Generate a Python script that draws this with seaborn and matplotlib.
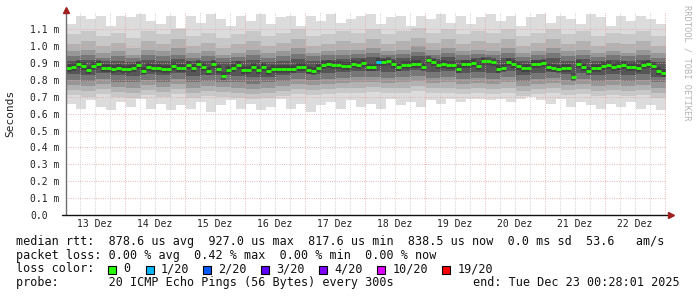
import numpy as np
import pandas as pd
import matplotlib
matplotlib.use("Agg")
import matplotlib.pyplot as plt
import matplotlib.dates as mdates
from matplotlib.patches import Rectangle
import seaborn as sns

# ---------------- data ----------------
start = pd.Timestamp("2025-12-13 00:28:01")
end = pd.Timestamp("2025-12-23 00:28:01")

# median RTT (ms), one value every 2 hours
median_ms = [
    0.870, 0.878, 0.897, 0.882, 0.858, 0.880, 0.893, 0.873, 0.868, 0.862,
    0.870, 0.866, 0.866, 0.873, 0.887, 0.855, 0.877, 0.872, 0.868, 0.866,
    0.867, 0.880, 0.873, 0.873, 0.887, 0.873, 0.893, 0.877, 0.855, 0.897,
    0.862, 0.822, 0.858, 0.870, 0.890, 0.858, 0.860, 0.877, 0.860, 0.877,
    0.850, 0.862, 0.862, 0.862, 0.867, 0.867, 0.877, 0.877, 0.858, 0.850,
    0.872, 0.890, 0.893, 0.887, 0.887, 0.885, 0.880, 0.897, 0.890, 0.900,
    0.877, 0.877, 0.905, 0.905, 0.915, 0.893, 0.877, 0.890, 0.890, 0.897,
    0.897, 0.877, 0.917, 0.905, 0.887, 0.897, 0.890, 0.890, 0.866, 0.897,
    0.893, 0.900, 0.885, 0.910, 0.910, 0.905, 0.866, 0.872, 0.905, 0.893,
    0.882, 0.873, 0.873, 0.897, 0.897, 0.900, 0.877, 0.868, 0.862, 0.868,
    0.873, 0.818, 0.897, 0.877, 0.855, 0.868, 0.868, 0.882, 0.890, 0.877,
    0.882, 0.890, 0.877, 0.877, 0.873, 0.890, 0.897, 0.880, 0.855, 0.840,
]
# loss events on the median line: (index, lost pings out of 20)
loss_index = [62]
loss_count = [1]

# smoke envelope (ms), one value every 4 hours
smoke_max = [
    1.13, 1.18, 1.16, 1.18, 1.12, 1.18, 1.17, 1.19, 1.15, 1.13, 1.18, 1.11,
    1.18, 1.14, 1.19, 1.16, 1.12, 1.18, 1.15, 1.19, 1.13, 1.17, 1.18, 1.12,
    1.18, 1.15, 1.19, 1.14, 1.16, 1.18, 1.19, 1.13, 1.17, 1.18, 1.12, 1.18,
    1.16, 1.19, 1.14, 1.18, 1.13, 1.17, 1.19, 1.15, 1.18, 1.12, 1.17, 1.19,
    1.14, 1.18, 1.16, 1.13, 1.19, 1.17, 1.12, 1.18, 1.15, 1.18, 1.16, 1.13,
]
smoke_min = [
    0.66, 0.63, 0.68, 0.64, 0.62, 0.67, 0.64, 0.69, 0.63, 0.66, 0.62, 0.65,
    0.63, 0.67, 0.61, 0.65, 0.68, 0.63, 0.66, 0.62, 0.64, 0.69, 0.63, 0.66,
    0.61, 0.65, 0.67, 0.63, 0.68, 0.64, 0.66, 0.63, 0.69, 0.65, 0.67, 0.64,
    0.68, 0.66, 0.69, 0.67, 0.69, 0.69, 0.68, 0.69, 0.67, 0.69, 0.70, 0.68,
    0.66, 0.69, 0.64, 0.67, 0.65, 0.63, 0.66, 0.64, 0.67, 0.63, 0.65, 0.62,
]
# inner smoke levels (ms), one value every 6 hours, outer (1) to inner (5)
smoke_u1 = [1.07, 1.09, 1.06, 1.08, 1.05, 1.09, 1.07, 1.10, 1.06, 1.08,
            1.05, 1.07, 1.09, 1.06, 1.08, 1.10, 1.06, 1.07, 1.09, 1.08,
            1.10, 1.07, 1.09, 1.11, 1.08, 1.10, 1.07, 1.09, 1.08, 1.10,
            1.06, 1.08, 1.10, 1.07, 1.09, 1.06, 1.08, 1.07, 1.09, 1.06]
smoke_u2 = [1.01, 1.03, 1.00, 1.02, 0.99, 1.03, 1.01, 1.04, 1.00, 1.02,
            0.99, 1.01, 1.03, 1.00, 1.02, 1.04, 1.00, 1.01, 1.03, 1.02,
            1.04, 1.01, 1.03, 1.05, 1.02, 1.04, 1.01, 1.03, 1.02, 1.04,
            1.00, 1.02, 1.04, 1.01, 1.03, 1.00, 1.02, 1.01, 1.03, 1.00]
smoke_u3 = [0.97, 0.98, 0.96, 0.97, 0.95, 0.98, 0.97, 0.99, 0.96, 0.97,
            0.95, 0.96, 0.98, 0.96, 0.97, 0.99, 0.96, 0.97, 0.98, 0.98,
            0.99, 0.97, 0.98, 1.00, 0.98, 0.99, 0.97, 0.98, 0.97, 0.99,
            0.96, 0.97, 0.99, 0.97, 0.98, 0.96, 0.97, 0.96, 0.98, 0.96]
smoke_u4 = [0.940, 0.945, 0.930, 0.940, 0.930, 0.950, 0.940, 0.950, 0.930, 0.940,
            0.930, 0.935, 0.950, 0.930, 0.940, 0.955, 0.940, 0.945, 0.950, 0.955,
            0.960, 0.950, 0.955, 0.965, 0.950, 0.960, 0.945, 0.955, 0.945, 0.960,
            0.935, 0.945, 0.960, 0.940, 0.950, 0.935, 0.945, 0.940, 0.950, 0.930]
smoke_u5 = [0.915, 0.920, 0.910, 0.915, 0.905, 0.920, 0.915, 0.925, 0.910, 0.915,
            0.905, 0.910, 0.920, 0.905, 0.915, 0.925, 0.915, 0.920, 0.925, 0.930,
            0.935, 0.925, 0.930, 0.940, 0.925, 0.935, 0.920, 0.930, 0.920, 0.930,
            0.910, 0.920, 0.930, 0.915, 0.925, 0.910, 0.920, 0.915, 0.920, 0.905]
smoke_d5 = [0.835, 0.830, 0.840, 0.830, 0.825, 0.835, 0.830, 0.840, 0.825, 0.830,
            0.830, 0.825, 0.815, 0.820, 0.830, 0.840, 0.835, 0.840, 0.845, 0.850,
            0.855, 0.845, 0.850, 0.860, 0.845, 0.850, 0.840, 0.845, 0.840, 0.850,
            0.830, 0.840, 0.845, 0.835, 0.840, 0.830, 0.835, 0.830, 0.835, 0.820]
smoke_d4 = [0.800, 0.795, 0.805, 0.790, 0.785, 0.800, 0.790, 0.805, 0.785, 0.795,
            0.790, 0.785, 0.775, 0.785, 0.795, 0.805, 0.800, 0.805, 0.810, 0.815,
            0.820, 0.810, 0.815, 0.825, 0.810, 0.815, 0.805, 0.810, 0.805, 0.815,
            0.795, 0.805, 0.810, 0.800, 0.805, 0.795, 0.800, 0.795, 0.800, 0.785]
smoke_d3 = [0.770, 0.765, 0.775, 0.760, 0.755, 0.770, 0.760, 0.775, 0.755, 0.765,
            0.760, 0.755, 0.745, 0.755, 0.765, 0.775, 0.770, 0.775, 0.780, 0.785,
            0.790, 0.780, 0.785, 0.795, 0.780, 0.785, 0.775, 0.780, 0.775, 0.785,
            0.765, 0.775, 0.780, 0.770, 0.775, 0.765, 0.770, 0.765, 0.770, 0.755]
smoke_d2 = [0.740, 0.735, 0.745, 0.730, 0.725, 0.740, 0.730, 0.745, 0.725, 0.735,
            0.730, 0.725, 0.715, 0.725, 0.735, 0.745, 0.740, 0.745, 0.750, 0.755,
            0.760, 0.750, 0.755, 0.765, 0.750, 0.755, 0.745, 0.750, 0.745, 0.755,
            0.735, 0.745, 0.750, 0.740, 0.745, 0.735, 0.740, 0.735, 0.740, 0.725]
smoke_d1 = [0.710, 0.700, 0.715, 0.700, 0.695, 0.710, 0.700, 0.715, 0.695, 0.705,
            0.700, 0.695, 0.685, 0.695, 0.705, 0.715, 0.710, 0.715, 0.720, 0.725,
            0.730, 0.720, 0.725, 0.735, 0.720, 0.725, 0.715, 0.720, 0.715, 0.725,
            0.705, 0.715, 0.720, 0.710, 0.715, 0.705, 0.710, 0.705, 0.710, 0.695]

y_ticks = [0.0, 0.1, 0.2, 0.3, 0.4, 0.5, 0.6, 0.7, 0.8, 0.9, 1.0, 1.1]
y_tick_labels = ["0.0", "0.1 m", "0.2 m", "0.3 m", "0.4 m", "0.5 m", "0.6 m",
                 "0.7 m", "0.8 m", "0.9 m", "1.0 m", "1.1 m"]
day_labels = ["13 Dez", "14 Dez", "15 Dez", "16 Dez", "17 Dez",
              "18 Dez", "19 Dez", "20 Dez", "21 Dez", "22 Dez"]

loss_labels = ["0", "1/20", "2/20", "3/20", "4/20", "10/20", "19/20"]
loss_colors = ["#26ff00", "#00b8ff", "#0059ff", "#5e00ff", "#7e00ff", "#dd00ff", "#ff0000"]

stats_line1 = "median rtt:  878.6 us avg  927.0 us max  817.6 us min  838.5 us now  0.0 ms sd  53.6   am/s"
stats_line2 = "packet loss: 0.00 % avg  0.42 % max  0.00 % min  0.00 % now"
probe_line = "probe:       20 ICMP Echo Pings (56 Bytes) every 300s"
end_line = "end: Tue Dec 23 00:28:01 2025"

# ---------------- figure ----------------
sns.set_theme(style="white")
plt.rcParams["font.family"] = ["DejaVu Sans Mono"]
W, H = 697, 297
fig = plt.figure(figsize=(W / 100, H / 100), dpi=100)
fig.patch.set_facecolor("white")

def fx(px):
    return px / W

def fy(py):
    return 1 - py / H

ax_left, ax_right, ax_bottom, ax_top = 66, 666, 215, 12.4
ax = fig.add_axes([fx(ax_left), fy(ax_bottom), (ax_right - ax_left) / W, (ax_bottom - ax_top) / H])
ax.set_facecolor("white")

def times(n, hours):
    return mdates.date2num(pd.date_range(start, periods=n + 1, freq=f"{hours}h"))

def ext(v):
    return list(v) + [v[-1]]

t_med = times(len(median_ms), 2)
t_smoke = times(len(smoke_max), 4)
t_inner = times(len(smoke_u1), 6)

# smoke layers
ax.fill_between(t_smoke, ext(smoke_min), ext(smoke_max), step="post", color="#dcdcdc", lw=0, zorder=1)
layers = [(smoke_d1, smoke_u1, "#c8c8c8"), (smoke_d2, smoke_u2, "#b2b2b2"),
          (smoke_d3, smoke_u3, "#979797"), (smoke_d4, smoke_u4, "#777777"),
          (smoke_d5, smoke_u5, "#565656")]
for lo, hi, col in layers:
    ax.fill_between(t_inner, ext(lo), ext(hi), step="post", color=col, lw=0, zorder=1)

# median as short horizontal segments (one per consolidation step)
seg_rows = []
for i, v in enumerate(median_ms):
    seg_rows.append({"t": t_med[i], "ms": v, "seg": i})
    seg_rows.append({"t": t_med[i + 1], "ms": v, "seg": i})
med_df = pd.DataFrame(seg_rows)
sns.lineplot(data=med_df, x="t", y="ms", units="seg", estimator=None, ax=ax,
             color="#2e2e2e", lw=5.5, alpha=0.5, zorder=4, legend=False,
             solid_capstyle="butt")
sns.lineplot(data=med_df, x="t", y="ms", units="seg", estimator=None, ax=ax,
             color=loss_colors[0], lw=2.0, zorder=5, legend=False,
             solid_capstyle="butt")
for idx, cnt in zip(loss_index, loss_count):
    ax.hlines(median_ms[idx], t_med[idx], t_med[idx + 1], color=loss_colors[cnt], lw=2.0, zorder=6,
              capstyle="butt")

# grid (drawn over smoke like rrdtool)
grid_major = "#e8a4a4"
grid_minor = "#c4c4c4"
dots = (0, (0.7, 1.5))
for v in y_ticks[1:]:
    ax.axhline(v, color=grid_major, lw=0.75, ls=dots, zorder=3)
day0 = pd.Timestamp("2025-12-13")
for k in range(0, 11 * 4):
    tt = day0 + pd.Timedelta(hours=6 * k)
    if tt <= start or tt > end:
        continue
    col = grid_major if tt.hour == 0 else grid_minor
    ax.axvline(mdates.date2num(tt), color=col, lw=0.75, ls=dots, zorder=3)

ax.set_xlim(t_med[0], t_med[-1])
ax.set_ylim(0, 1.2)
ax.set_xlabel("")
ax.set_ylabel("")

for s in ["top", "right", "bottom", "left"]:
    ax.spines[s].set_visible(False)

# axes lines with arrows
ax.plot([0, 0], [0, 1.01], transform=ax.transAxes, color="#6e6e6e", lw=1.0, clip_on=False, zorder=7)
ax.plot([-0.006, 1.008], [0, 0], transform=ax.transAxes, color="#111111", lw=1.0, clip_on=False, zorder=7)
ax.plot([0], [1.012], transform=ax.transAxes, marker="^", ms=4.5, color="#a02020", clip_on=False, zorder=8)
ax.plot([1.008], [0], transform=ax.transAxes, marker=">", ms=4.5, color="#a02020", clip_on=False, zorder=8)

# y ticks
ax.set_yticks(y_ticks)
ax.set_yticklabels(y_tick_labels)
ax.tick_params(axis="y", which="major", length=0, pad=(ax_left - 30) / 1.389, labelsize=7, colors="#222222")
for lab in ax.get_yticklabels():
    lab.set_horizontalalignment("left")

# x ticks: labels at noon
noon = [mdates.date2num(pd.Timestamp(f"2025-12-{13 + i} 12:00")) for i in range(len(day_labels))]
ax.set_xticks(noon)
ax.set_xticklabels(day_labels)
ax.tick_params(axis="x", which="major", length=0, pad=3.0, labelsize=7, colors="#222222")

# y label
fig.text(fx(10), fy(113), "Seconds", rotation=90, ha="center", va="center", fontsize=8, color="#222222")
# side credit
fig.text(fx(687), fy(5), "RRDTOOL / TOBI OETIKER", rotation=270, ha="center", va="top",
         fontsize=6.3, color="#b4b4b4")

# legend block
fs = 8.5
fig.text(fx(16), fy(241.5), stats_line1, ha="left", va="center", fontsize=fs, color="#111111")
fig.text(fx(16), fy(255), stats_line2, ha="left", va="center", fontsize=fs, color="#111111")
fig.text(fx(16), fy(269), "loss color:", ha="left", va="center", fontsize=fs, color="#111111")
square_x = [108, 145.7, 203.3, 261, 319.3, 377.3, 442.3]
for sx, lab, col in zip(square_x, loss_labels, loss_colors):
    fig.patches.append(Rectangle((fx(sx), fy(273.5)), 8 / W, 8 / H, transform=fig.transFigure,
                                 facecolor=col, edgecolor="black", lw=0.8))
    fig.text(fx(sx + 15), fy(269), lab, ha="left", va="center", fontsize=fs, color="#111111")
fig.text(fx(16), fy(282.7), probe_line, ha="left", va="center", fontsize=fs, color="#111111")
fig.text(fx(680), fy(282.7), end_line, ha="right", va="center", fontsize=fs, color="#111111")

fig.savefig("out.png", dpi=100, facecolor="white")
